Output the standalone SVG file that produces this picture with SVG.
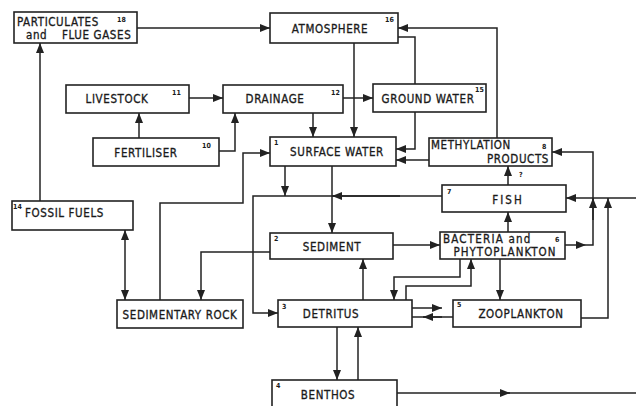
<svg xmlns="http://www.w3.org/2000/svg" width="636" height="406" viewBox="0 0 636 406">
<style>
.b{fill:#fff;stroke:#222;stroke-width:1.6}
.t{font-family:"DejaVu Sans Condensed","DejaVu Sans",sans-serif;font-size:11.5px;fill:#1a1a1a;stroke:#1a1a1a;stroke-width:0.3;letter-spacing:0.6px}
.m{text-anchor:middle}
.n{font-family:"DejaVu Sans Condensed","DejaVu Sans",sans-serif;font-size:7px;font-weight:bold;fill:#1a1a1a}
.c path{fill:none;stroke:#222;stroke-width:1.5}
</style>
<defs>
<marker id="a" viewBox="0 0 10 8" refX="10" refY="4" markerWidth="10" markerHeight="8" markerUnits="userSpaceOnUse" orient="auto"><path d="M0,0 L10,4 L0,8 Z" fill="#222"/></marker>
</defs>
<rect width="636" height="406" fill="#fff"/>
<g class="c">
<path d="M137,28 H270" marker-end="url(#a)"/>
<path d="M497,138 V28 H398" marker-end="url(#a)"/>
<path d="M398,37 H415 V84"/>
<path d="M415,112 V149 H396" marker-end="url(#a)"/>
<path d="M429,160 H396" marker-end="url(#a)"/>
<path d="M354,43 V137" marker-end="url(#a)"/>
<path d="M189,98 H223" marker-end="url(#a)"/>
<path d="M343,98 H373" marker-end="url(#a)"/>
<path d="M313,113 V137" marker-end="url(#a)"/>
<path d="M139,138 V113" marker-end="url(#a)"/>
<path d="M219,151 H235 V113" marker-end="url(#a)"/>
<path d="M40,201 V43" marker-end="url(#a)"/>
<path d="M125,270 V230" marker-end="url(#a)"/>
<path d="M125,270 V300" marker-end="url(#a)"/>
<path d="M160,300 V203 H243 V153 H270" marker-end="url(#a)"/>
<path d="M270,252 H201 V300" marker-end="url(#a)"/>
<path d="M285,166 V196" marker-end="url(#a)"/>
<path d="M442,196 H253 V313 H278" marker-end="url(#a)"/>
<path d="M400,196 H332" marker-end="url(#a)"/>
<path d="M332,166 V233" marker-end="url(#a)"/>
<path d="M393,245 H440" marker-end="url(#a)"/>
<path d="M363,300 V259" marker-end="url(#a)"/>
<path d="M460,259 V277 H394 V300" marker-end="url(#a)"/>
<path d="M406,300 V286 H471 V259" marker-end="url(#a)"/>
<path d="M500,259 V300" marker-end="url(#a)"/>
<path d="M508,232 V212" marker-end="url(#a)"/>
<path d="M508,185 V166" marker-end="url(#a)"/>
<path d="M412,308 H442" marker-end="url(#a)"/>
<path d="M453,317 H423" marker-end="url(#a)"/>
<path d="M442,317 H412"/>
<path d="M581,318 H608 V198" marker-end="url(#a)"/>
<path d="M636,198 H566" marker-end="url(#a)"/>
<path d="M565,245 H586" marker-end="url(#a)"/>
<path d="M586,245 H593 V152 H552" marker-end="url(#a)"/>
<path d="M593,220 V198" marker-end="url(#a)"/>
<path d="M337,327 V380" marker-end="url(#a)"/>
<path d="M358,380 V327" marker-end="url(#a)"/>
<path d="M397,393 H510" marker-end="url(#a)"/>
<path d="M505,393 H636"/>
</g>
<g id="particulates"><rect class="b" x="14" y="12" width="123" height="31"/><text class="t" x="17" y="26">PARTICULATES</text><text class="n" x="117" y="22">18</text><text class="t" x="26" y="39">and</text><text class="t" x="62" y="39">FLUE GASES</text></g>
<g id="atmosphere"><rect class="b" x="270" y="13" width="128" height="30"/><text class="t m" x="330" y="33">ATMOSPHERE</text><text class="n" x="385" y="22">16</text></g>
<g id="livestock"><rect class="b" x="66" y="85" width="123" height="28"/><text class="t m" x="117" y="103">LIVESTOCK</text><text class="n" x="172" y="95">11</text></g>
<g id="drainage"><rect class="b" x="223" y="85" width="120" height="28"/><text class="t m" x="275" y="103">DRAINAGE</text><text class="n" x="331" y="95">12</text></g>
<g id="groundwater"><rect class="b" x="373" y="84" width="113" height="28"/><text class="t m" x="428" y="103">GROUND WATER</text><text class="n" x="475" y="92">15</text></g>
<g id="fertiliser"><rect class="b" x="93" y="138" width="126" height="28"/><text class="t m" x="146" y="157">FERTILISER</text><text class="n" x="202" y="148">10</text></g>
<g id="surfacewater"><rect class="b" x="270" y="137" width="126" height="29"/><text class="n" x="274" y="145">1</text><text class="t m" x="337" y="156">SURFACE WATER</text></g>
<g id="methylation"><rect class="b" x="429" y="138" width="123" height="28"/><text class="t" x="431" y="149">METHYLATION</text><text class="t" x="549" y="163" text-anchor="end">PRODUCTS</text><text class="n" x="542" y="149">8</text></g>
<text class="n" x="519" y="177">?</text>
<g id="fish"><rect class="b" x="442" y="185" width="124" height="27"/><text class="n" x="447" y="194">7</text><text class="t m" x="508" y="204" style="letter-spacing:2px">FISH</text></g>
<g id="fossilfuels"><rect class="b" x="12" y="201" width="121" height="29"/><text class="n" x="13" y="209">14</text><text class="t" x="25" y="217">FOSSIL  FUELS</text></g>
<g id="sediment"><rect class="b" x="270" y="233" width="123" height="26"/><text class="n" x="274" y="241">2</text><text class="t m" x="332" y="251">SEDIMENT</text></g>
<g id="bacteria"><rect class="b" x="440" y="232" width="125" height="27"/><text class="t" x="443" y="243" style="letter-spacing:1.2px">BACTERIA  and</text><text class="n" x="555" y="242">6</text><text class="t m" x="505" y="256" style="letter-spacing:1px">PHYTOPLANKTON</text></g>
<g id="sedimentaryrock"><rect class="b" x="117" y="300" width="126" height="28"/><text class="t m" x="180" y="319">SEDIMENTARY ROCK</text></g>
<g id="detritus"><rect class="b" x="278" y="300" width="134" height="27"/><text class="n" x="282" y="309">3</text><text class="t m" x="331" y="318">DETRITUS</text></g>
<g id="zooplankton"><rect class="b" x="453" y="300" width="128" height="27"/><text class="n" x="457" y="307">5</text><text class="t m" x="521" y="318">ZOOPLANKTON</text></g>
<g id="benthos"><rect class="b" x="272" y="380" width="125" height="30"/><text class="n" x="276" y="388">4</text><text class="t m" x="328" y="399">BENTHOS</text></g>
</svg>
